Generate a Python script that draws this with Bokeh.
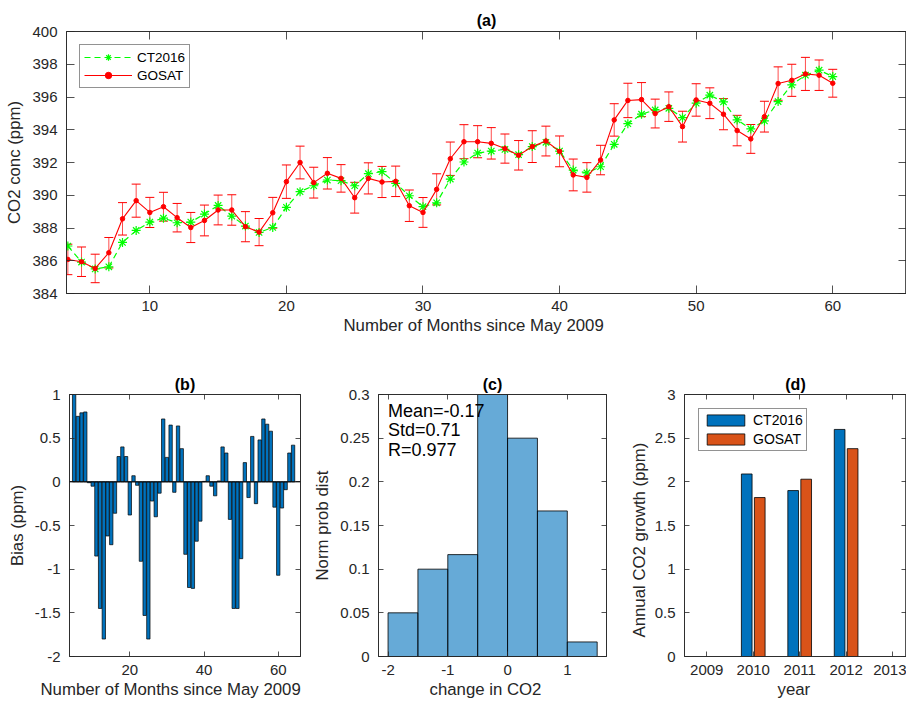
import numpy as np
from bokeh.plotting import figure
from bokeh.models import (Range1d, LinearAxis, FixedTicker, CustomJSTickFormatter, Whisker,
                          TeeHead, ColumnDataSource, Legend, LegendItem, Span, Label, Title)
from bokeh.layouts import column, row
from bokeh.embed import file_html
from bokeh.resources import INLINE
from bokeh.transform import dodge

# ---------------- data ----------------
months = list(range(4, 61))
ct2016 = [386.90, 385.92, 385.50, 385.63, 387.12, 387.85, 388.36, 388.60, 388.32, 388.36,
          388.85, 389.38, 388.73, 388.12, 387.73, 388.03, 389.26, 390.22, 390.58, 390.93,
          390.89, 390.58, 391.32, 391.44, 390.73, 389.97, 389.30, 389.54, 390.99, 392.03,
          392.58, 392.70, 392.80, 392.48, 392.97, 393.23, 392.70, 391.54, 391.36, 391.74,
          393.11, 394.37, 394.95, 395.21, 395.31, 394.74, 395.62, 396.11, 395.70, 394.60,
          394.05, 394.54, 395.72, 396.74, 397.33, 397.64, 397.25]
gosat = [386.08, 385.94, 385.53, 386.49, 388.56, 389.67, 388.95, 389.30, 388.63, 388.03,
         388.46, 389.10, 389.10, 388.08, 387.75, 388.93, 390.83, 392.00, 390.77, 391.34,
         391.03, 389.85, 391.03, 390.81, 390.85, 389.36, 388.95, 390.36, 392.23, 393.27,
         393.27, 393.17, 392.85, 392.44, 392.97, 393.31, 392.68, 391.24, 391.09, 392.15,
         394.60, 395.79, 395.84, 394.99, 395.41, 394.19, 395.82, 395.62, 394.95, 393.95,
         393.44, 394.80, 396.82, 397.02, 397.41, 397.33, 396.84]
gosat_err = [0.93, 0.90, 0.87, 0.93, 0.99, 1.01, 0.92, 0.88, 0.87, 0.92,
             0.94, 0.91, 0.93, 0.92, 0.83, 0.94, 1.02, 1.00, 0.94, 0.96,
             0.84, 0.94, 0.95, 0.95, 0.93, 0.96, 0.91, 0.95, 1.02, 1.04,
             0.98, 0.96, 0.89, 0.90, 0.97, 0.91, 0.94, 0.97, 0.90, 0.90,
             0.99, 1.05, 1.04, 0.88, 0.90, 0.94, 0.99, 0.94, 0.95, 0.93,
             0.88, 0.94, 1.02, 0.98, 1.01, 0.93, 0.85]

bias_months = list(range(5, 65))
bias = [1.05, 0.75, 0.79, 0.80, -0.01, -0.05, -0.85, -1.45, -1.80, -0.62,
        -0.72, -0.36, 0.29, 0.40, 0.29, -0.38, 0.07, -0.04, -0.91, -1.53,
        -1.80, -0.22, -0.40, -0.13, 0.72, 0.28, 0.65, -0.12, 0.64, 0.38,
        -0.83, -1.21, -1.22, -0.68, -0.45, 0.005, 0.07, -0.05, -0.16, 0.01,
        0.40, 0.33, -0.43, -1.45, -1.45, -0.88, 0.22, -0.18, 0.52, -0.25,
        0.48, 0.72, 0.66, 0.58, -0.29, -1.07, -0.30, -0.09, 0.33, 0.42]

hist_edges = [-2.0, -1.5, -1.0, -0.5, 0.0, 0.5, 1.0, 1.5]
stats_text = "Mean=-0.17\nStd=0.71\nR=0.977"

years = [2010, 2011, 2012]
growth_ct = [2.09, 1.90, 2.60]
growth_gosat = [1.82, 2.03, 2.38]

xticks_a = [10, 20, 30, 40, 50, 60]
yticks_a = [384, 386, 388, 390, 392, 394, 396, 398, 400]
xticks_b = [20, 40, 60]
yticks_b = [-2, -1.5, -1, -0.5, 0, 0.5, 1]
xticks_c = [-2, -1, 0, 1]
yticks_c = [0, 0.05, 0.1, 0.15, 0.2, 0.25, 0.3]
xticks_d = [2009, 2010, 2011, 2012, 2013]
yticks_d = [0, 0.5, 1, 1.5, 2, 2.5, 3]

# ---------------- style ----------------
FONT = "Liberation Sans"
TXT = "#262626"
TICK_FS = "15px"
LAB_FS = "16.8px"
BLUE = "#0072BD"
ORANGE = "#D95319"


def style_axis(ax, ticks, tick_len, standoff, show_labels=True):
    ax.ticker = FixedTicker(ticks=ticks)
    if show_labels:
        ax.formatter = CustomJSTickFormatter(code="return String(tick);")
    else:
        ax.formatter = CustomJSTickFormatter(code="return '';")
        ax.major_label_standoff = 0
    ax.major_tick_in = tick_len
    ax.major_tick_out = 0
    ax.minor_tick_line_color = None
    ax.axis_line_color = TXT
    ax.axis_line_width = 0.8
    ax.major_tick_line_color = TXT
    ax.major_tick_line_width = 0.8
    ax.major_label_text_font = FONT
    ax.major_label_text_font_size = TICK_FS
    ax.major_label_text_color = TXT
    if show_labels:
        ax.major_label_standoff = standoff
    ax.axis_label_text_font = FONT
    ax.axis_label_text_font_size = LAB_FS
    ax.axis_label_text_font_style = "normal"
    ax.axis_label_text_color = TXT


def base_fig(w, h, xr, yr, borders, xticks, yticks, tick_len, title, xstand, ystand):
    l, r, t, b = borders
    p = figure(width=w, height=h, x_range=Range1d(*xr), y_range=Range1d(*yr),
               output_backend="svg", toolbar_location=None,
               min_border_left=l, min_border_right=r, min_border_top=t, min_border_bottom=b)
    p.grid.visible = False
    p.outline_line_color = TXT
    p.outline_line_width = 0.8
    p.background_fill_color = "white"
    p.border_fill_color = "white"
    style_axis(p.xaxis[0], xticks, tick_len, xstand)
    style_axis(p.yaxis[0], yticks, tick_len, ystand)
    top = LinearAxis()
    style_axis(top, xticks, tick_len, 0, show_labels=False)
    p.add_layout(top, "above")
    right = LinearAxis()
    style_axis(right, yticks, tick_len, 0, show_labels=False)
    p.add_layout(right, "right")
    p.title.text = title
    p.title.align = "center"
    p.title.text_font = FONT
    p.title.text_font_size = "16px"
    p.title.text_font_style = "bold"
    p.title.text_color = "black"
    return p


def side_label(p, text, side, offset, standoff):
    p.add_layout(Title(text=text, align="left", offset=offset, text_font=FONT,
                       text_font_size=LAB_FS, text_font_style="normal", text_color=TXT,
                       standoff=standoff), side)


# ---------------- panel (a) ----------------
pa = base_fig(906, 355, (3.9, 65.4), (384, 400), (66, 0, 31, 62), xticks_a, yticks_a, 8,
              "(a)", 7, 9)
pa.title.standoff = 6
pa.yaxis[0].axis_label = "CO2 conc (ppm)"
pa.yaxis[0].axis_label_standoff = 5
side_label(pa, "Number of Months since May 2009", "below", 277, 1)

g = np.array(gosat)
e = np.array(gosat_err)
src_a = ColumnDataSource(dict(m=months, ct=ct2016, go=gosat, up=g + e, lo=g - e))
ct_line = pa.line("m", "ct", source=src_a, line_color="#00FF00", line_dash="6 4", line_width=1.2)
ct_pts = pa.scatter("m", "ct", source=src_a, marker="asterisk", size=9,
                    line_color="#00FF00", line_width=1.2)
pa.add_layout(Whisker(source=src_a, base="m", upper="up", lower="lo",
                      line_color="red", line_alpha=0.7, line_width=1,
                      upper_head=TeeHead(size=9, line_color="red", line_width=1),
                      lower_head=TeeHead(size=9, line_color="red", line_width=1)))
go_line = pa.line("m", "go", source=src_a, line_color="red", line_width=1.1)
go_pts = pa.scatter("m", "go", source=src_a, marker="circle", size=4.5,
                    fill_color="red", line_color="red")
leg_a = Legend(items=[LegendItem(label="CT2016", renderers=[ct_line, ct_pts]),
                      LegendItem(label="GOSAT", renderers=[go_line, go_pts])],
               location="top_left", margin=13, padding=4, spacing=2,
               glyph_width=48, glyph_height=16, label_standoff=5,
               label_text_font=FONT, label_text_font_size="13.5px", label_text_color="black",
               border_line_color=TXT, border_line_width=0.8, background_fill_alpha=1)
pa.add_layout(leg_a)

# ---------------- panel (b) ----------------
pb = base_fig(310, 347, (3.75, 66.0), (-2, 1), (69, 10, 39, 46), xticks_b, yticks_b, 5,
              "(b)", 8, 9)
pb.title.standoff = 3
pb.yaxis[0].axis_label = "Bias (ppm)"
pb.yaxis[0].axis_label_standoff = 5
side_label(pb, "Number of Months since May 2009", "below", -29, 1)
pb.vbar(x=bias_months, top=bias, bottom=0, width=0.9, fill_color=BLUE,
        line_color="black", line_width=0.7)
pb.add_layout(Span(location=0, dimension="width", line_color="black", line_width=1))

# ---------------- panel (c) ----------------
pc = base_fig(310, 347, (-2.16, 1.656), (0, 0.3), (67, 14, 39, 46), xticks_c, yticks_c, 5,
              "(c)", 8, 9)
pc.title.standoff = 3
pc.yaxis[0].axis_label = "Norm prob dist"
pc.yaxis[0].axis_label_standoff = 5
side_label(pc, "change in CO2", "below", 51, 1)
edges = np.array(hist_edges)
counts, _ = np.histogram(np.array(bias), bins=edges)
prob = counts / len(bias)
pc.quad(left=edges[:-1], right=edges[1:], bottom=0, top=prob, fill_color=BLUE,
        fill_alpha=0.6, line_color="black", line_alpha=0.8, line_width=1)
pc.add_layout(Label(x=-2.0, y=0.2925, text=stats_text, text_font=FONT, text_font_size="18px",
                    text_baseline="top", text_align="left", text_line_height=0.97,
                    text_color="black"))

# ---------------- panel (d) ----------------
pd_ = base_fig(286, 347, (2008.52, 2013.3), (0, 3), (64, 0, 39, 46), xticks_d, yticks_d, 5,
               "(d)", 8, 9)
pd_.title.standoff = 3
side_label(pd_, "Annual CO2 growth (ppm)", "left", 19, 5)
side_label(pd_, "year", "below", 93, 1)
src_d = ColumnDataSource(dict(year=years, ct=growth_ct, go=growth_gosat))
b1 = pd_.vbar(x=dodge("year", -0.14, range=pd_.x_range), top="ct", bottom=0, width=0.23,
              source=src_d, fill_color=BLUE, line_color="black", line_width=0.8)
b2 = pd_.vbar(x=dodge("year", 0.14, range=pd_.x_range), top="go", bottom=0, width=0.23,
              source=src_d, fill_color=ORANGE, line_color="black", line_width=0.8)
leg_d = Legend(items=[LegendItem(label="CT2016", renderers=[b1]),
                      LegendItem(label="GOSAT", renderers=[b2])],
               location="top_left", margin=14, padding=3, spacing=3,
               glyph_width=47, glyph_height=14, label_standoff=4,
               label_text_font=FONT, label_text_font_size="14px", label_text_color="black",
               border_line_color=TXT, border_line_width=0.8, background_fill_alpha=1)
pd_.add_layout(leg_d)

layout = column(pa, row(pb, pc, pd_, spacing=0), spacing=0)

with open("out.html", "w") as f:
    f.write(file_html(layout, INLINE))
